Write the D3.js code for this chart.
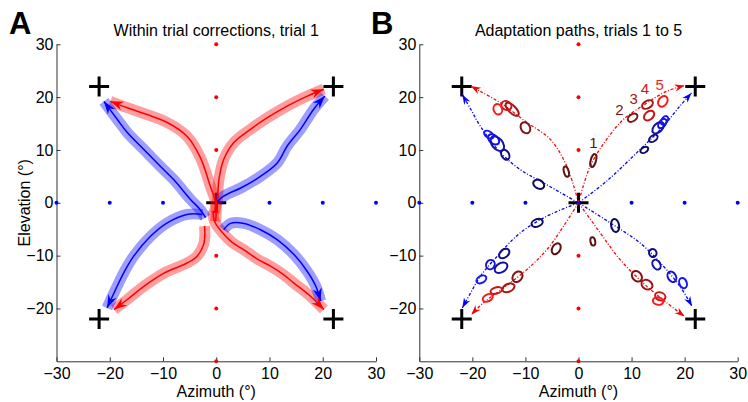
<!DOCTYPE html>
<html>
<head>
<meta charset="utf-8">
<script src="https://cdn.jsdelivr.net/npm/d3@7"></script>
<style>
body { margin: 0; background: #fff; }
svg { display: block; font-family: "Liberation Sans", Arial, sans-serif; }
</style>
</head>
<body>
<svg id="chart" width="748" height="402"></svg>
<script>
// ---- data ----
const xTickVals = [-30, -20, -10, 0, 10, 20, 30];
const yTickVals = [-20, -10, 0, 10, 20, 30];
const redDotEl = [-30, -20, -10, 0, 10, 20, 30];   // red dots along azimuth 0
const blueDotAz = [-30, -20, -10, 10, 20, 30];     // blue dots along elevation 0
const targets = [[22, 22], [-22, 22], [-22, -22], [22, -22], [0, 0]];

// panel A: mean within-trial paths [azimuth, elevation]
const redPathsA = [
	[[-0.4, -1.9], [0.2, 0.6], [0.5, 4.4], [1.4, 8.2], [3.3, 11.4], [6.4, 13.9], [9.6, 16.1], [13.3, 18.3], [17.1, 20.2], [20.2, 21.5]],
	[[-0.1, -3.5], [-0.1, 0], [-1.1, 3.1], [-3.0, 8.6], [-5.5, 12.6], [-9.2, 15.2], [-13.0, 16.7], [-16.7, 18.0], [-19.9, 19.2]],
	[[-2.2, -4.4], [-2.3, -7.6], [-3.6, -10.1], [-5.5, -11.4], [-9.8, -13.3], [-13.6, -15.8], [-16.7, -18.3], [-19.2, -20.2]],
	[[-0.6, -1.5], [-0.3, -3.6], [0.8, -5.2], [3.0, -7.5], [5.2, -8.9], [7.8, -10.7], [10.2, -12.0], [12.5, -13.5], [14.6, -15.2], [17.7, -17.7], [20.2, -20.2]]
];
const bluePathsA = [
	[[0.2, 0.2], [1.0, 1.0], [2.4, 1.8], [4.6, 2.8], [8.3, 5.0], [11.5, 7.6], [13.3, 10.7], [15.8, 13.9], [18.3, 17.7], [20.4, 20.2]],
	[[-2.0, -2.8], [-3.0, -1.3], [-4.8, 0.6], [-8.0, 4.4], [-10.5, 6.9], [-13.6, 10.1], [-16.7, 13.3], [-18.6, 15.8], [-21.1, 19.2]],
	[[-2.6, -2.2], [-5.5, -2.2], [-9.2, -3.8], [-12.3, -6.3], [-15.5, -10.1], [-17.4, -13.3], [-18.9, -16.4], [-20.5, -19.9]],
	[[1.4, -5.1], [2.7, -3.9], [5.2, -3.9], [8.3, -5.1], [11.5, -7.0], [14.6, -9.8], [17.1, -13.0], [18.7, -15.8], [19.6, -18.6]]
];

// panel B: adaptation paths
const redPathsB = [
	[[0, 0], [2.2, 6.9], [5.3, 12.0], [8.5, 15.8], [12.9, 18.9], [16.6, 21.1], [20.0, 22.2]],
	[[0, 0], [-2.2, 6.9], [-5.3, 12.0], [-9.7, 15.2], [-14.7, 18.9], [-18.5, 21.1], [-20.3, 22.1]],
	[[0, 0], [-2.8, -4.4], [-5.9, -8.8], [-9.7, -12.6], [-14.1, -16.1], [-17.9, -18.9], [-20.2, -21.2]],
	[[0, 0], [4.1, -5.7], [7.8, -10.7], [12.2, -15.2], [16.6, -18.9], [20.0, -21.5]]
];
const bluePathsB = [
	[[0, 0], [5.3, 4.1], [11.0, 9.5], [16.0, 14.5], [19.1, 18.3], [21.3, 20.8]],
	[[0, 0], [-7.2, 4.1], [-11.0, 6.3], [-14.7, 9.5], [-18.5, 14.5], [-20.3, 17.7], [-21.9, 20.5]],
	[[0, 0], [-5.9, -2.5], [-11.0, -5.7], [-15.3, -10.1], [-18.5, -13.9], [-20.3, -17.0], [-21.9, -19.9]],
	[[0, 0], [6.0, -3.8], [11.6, -7.6], [16.0, -12.0], [19.1, -15.8], [21.4, -19.6]]
];

// endpoint ellipses: [az, el, semi-major (deg), semi-minor (deg), angle (deg), trial]
const redEllipses = [
	[2.8, 8.0, 1.25, 0.5, 75, 1], [10.2, 16.1, 1.0, 0.65, 35, 2], [13.0, 18.6, 1.1, 0.7, 30, 3], [13.3, 16.5, 1.1, 0.75, 40, 4], [15.9, 19.2, 1.1, 0.8, 55, 5],
	[-2.3, 5.9, 1.0, 0.45, 105, 1], [-10.0, 14.2, 1.1, 0.85, 120, 2], [-12.5, 17.7, 1.6, 0.7, 135, 3], [-13.6, 18.4, 1.0, 0.8, 150, 4], [-15.2, 17.7, 1.0, 0.8, 110, 5],
	[-4.2, -8.7, 1.1, 0.75, 60, 1], [-11.5, -14.0, 1.1, 0.85, 50, 2], [-13.2, -16.1, 1.2, 0.75, 25, 3], [-15.5, -16.6, 1.1, 0.6, 15, 4], [-17.1, -18.0, 1.0, 0.65, 25, 5],
	[2.7, -7.3, 0.8, 0.45, 100, 1], [11.0, -13.9, 1.1, 0.85, 130, 2], [12.9, -15.5, 1.1, 0.85, 150, 3], [15.4, -17.7, 1.0, 0.75, 160, 4], [15.0, -18.6, 1.0, 0.7, 170, 5]
];
const blueEllipses = [
	[12.4, 10.0, 0.8, 0.5, 30, 1], [14.1, 12.2, 0.9, 0.55, 35, 2], [15.0, 14.2, 1.3, 0.8, 45, 3], [15.8, 15.0, 1.0, 0.6, 50, 4], [16.2, 15.6, 0.9, 0.55, 55, 5],
	[-7.5, 3.5, 1.1, 0.8, 150, 1], [-13.8, 9.1, 1.0, 0.7, 120, 2], [-15.3, 11.2, 1.6, 1.0, 130, 3], [-16.0, 12.0, 1.2, 0.8, 140, 4], [-16.9, 12.9, 1.0, 0.6, 145, 5],
	[-7.8, -3.8, 1.1, 0.7, 20, 1], [-14.0, -9.6, 1.1, 0.75, 40, 2], [-14.6, -12.3, 1.3, 0.85, 30, 3], [-16.6, -11.7, 0.9, 0.8, 60, 4], [-18.3, -14.5, 1.0, 0.65, 30, 5],
	[6.9, -4.3, 1.25, 0.75, 100, 1], [14.0, -9.5, 0.75, 0.7, 110, 2], [14.7, -11.7, 1.0, 0.7, 120, 3], [17.6, -14.0, 1.05, 0.75, 120, 4], [19.7, -15.2, 1.0, 0.7, 110, 5]
];
const trialLabels = [["1", 2.8, 11.4], ["2", 7.7, 17.7], ["3", 10.4, 19.7], ["4", 12.5, 21.6], ["5", 15.3, 22.4]];

const redShades = ["#5e1212", "#801414", "#a41616", "#cc1616", "#f81c1c"];
const blueShades = ["#0c0c5a", "#0e0e82", "#1010aa", "#1212d2", "#1616f8"];

// ---- layout ----
const svg = d3.select("#chart");
const yScale = d3.scaleLinear().domain([-30, 30]).range([361.3, 44.3]);

const defs = svg.append("defs");
function addMarker(id, color, len, half, notch) {
	defs.append("marker")
		.attr("id", id)
		.attr("viewBox", `${-len - 1} ${-half - 1} ${len + 2} ${2 * half + 2}`)
		.attr("markerUnits", "userSpaceOnUse")
		.attr("markerWidth", len + 2).attr("markerHeight", 2 * half + 2)
		.attr("refX", 0).attr("refY", 0)
		.attr("orient", "auto")
		.append("path")
		.attr("d", `M0,0L${-len},${-half}L${-notch},0L${-len},${half}Z`)
		.attr("fill", color);
}
addMarker("arA-red", "#f00", 13, 4.5, 9);
addMarker("arA-blue", "#00f", 13, 4.5, 9);
addMarker("arB-red", "#f00", 10, 3.5, 7);
addMarker("arB-blue", "#00f", 10, 3.5, 7);

function panel(x0, x1, title, letter, letterX) {
	const x = d3.scaleLinear().domain([-30, 30]).range([x0, x1]);
	const g = svg.append("g");

	const ax = g.append("g")
		.attr("transform", `translate(0, ${yScale(-30)})`)
		.call(d3.axisBottom(x).tickValues(xTickVals).tickSizeInner(-4).tickSizeOuter(0).tickPadding(6));
	const ay = g.append("g")
		.attr("transform", `translate(${x(-30)}, 0)`)
		.call(d3.axisLeft(yScale).tickValues(yTickVals).tickSizeInner(-4).tickSizeOuter(0).tickPadding(3));
	[ax, ay].forEach(a => {
		a.attr("font-size", 16).attr("font-family", null).attr("color", "#333");
		a.selectAll("text").attr("fill", "#000");
	});

	g.append("text")
		.attr("x", (x0 + x1) / 2).attr("y", 36)
		.attr("text-anchor", "middle").attr("font-size", 16)
		.text(title);
	g.append("text")
		.attr("x", letterX).attr("y", 34)
		.attr("font-size", 31).attr("font-weight", "bold")
		.text(letter);
	g.append("text")
		.attr("x", (x0 + x1) / 2).attr("y", 396.5)
		.attr("text-anchor", "middle").attr("font-size", 16)
		.text("Azimuth (°)");

	// grid of reference dots
	g.append("g").selectAll("circle").data(redDotEl).join("circle")
		.attr("cx", x(0)).attr("cy", d => yScale(d)).attr("r", 2).attr("fill", "#f00");
	g.append("g").selectAll("circle").data(blueDotAz).join("circle")
		.attr("cx", d => x(d)).attr("cy", yScale(0)).attr("r", 2).attr("fill", "#00f");

	// target crosses
	g.append("g").selectAll("path").data(targets).join("path")
		.attr("d", d => {
			const cx = x(d[0]), cy = yScale(d[1]);
			return `M${cx - 10},${cy}H${cx + 10}M${cx},${cy - 10}V${cy + 10}`;
		})
		.attr("stroke", "#000").attr("stroke-width", 3).attr("fill", "none");

	return { g, x };
}

// ---- panel A ----
const A = panel(56.5, 376, "Within trial corrections, trial 1", "A", 9);
svg.append("text")
	.attr("transform", `translate(30, ${yScale(0)}) rotate(-90)`)
	.attr("text-anchor", "middle").attr("font-size", 16)
	.text("Elevation (°)");

const lineA = d3.line().x(d => A.x(d[0])).y(d => yScale(d[1])).curve(d3.curveCatmullRom);
const bandsA = A.g.append("g").attr("fill", "none").attr("stroke-linejoin", "round");
bandsA.selectAll("path.r").data(redPathsA).join("path").attr("class", "r")
	.attr("d", lineA).attr("stroke", "#f00").attr("stroke-opacity", 0.38).attr("stroke-width", 11);
bandsA.selectAll("path.b").data(bluePathsA).join("path").attr("class", "b")
	.attr("d", lineA).attr("stroke", "#00f").attr("stroke-opacity", 0.38).attr("stroke-width", 11);

const linesA = A.g.append("g").attr("fill", "none");
linesA.selectAll("path.r").data(redPathsA).join("path").attr("class", "r")
	.attr("d", lineA).attr("stroke", "#f00").attr("stroke-width", 1.5).attr("marker-end", "url(#arA-red)");
linesA.selectAll("path.b").data(bluePathsA).join("path").attr("class", "b")
	.attr("d", lineA).attr("stroke", "#00f").attr("stroke-width", 1.5).attr("marker-end", "url(#arA-blue)");

// ---- panel B ----
const B = panel(419.3, 737.7, "Adaptation paths, trials 1 to 5", "B", 371);
const lineB = d3.line().x(d => B.x(d[0])).y(d => yScale(d[1])).curve(d3.curveCatmullRom);
const linesB = B.g.append("g").attr("fill", "none").attr("stroke-width", 1.3).attr("stroke-dasharray", "3,1.8,1,1.8");
linesB.selectAll("path.r").data(redPathsB).join("path").attr("class", "r")
	.attr("d", lineB).attr("stroke", "#f00").attr("marker-end", "url(#arB-red)");
linesB.selectAll("path.b").data(bluePathsB).join("path").attr("class", "b")
	.attr("d", lineB).attr("stroke", "#00f").attr("marker-end", "url(#arB-blue)");

const kx = B.x(1) - B.x(0), ky = yScale(0) - yScale(1);
function drawEllipses(data, shades) {
	B.g.append("g").selectAll("ellipse").data(data).join("ellipse")
		.attr("transform", d => `translate(${B.x(d[0])},${yScale(d[1])}) rotate(${-d[4]})`)
		.attr("rx", d => d[2] * kx).attr("ry", d => d[3] * ky)
		.attr("fill", "none").attr("stroke-width", 2)
		.attr("stroke", d => shades[d[5] - 1]);
}
drawEllipses(redEllipses, redShades);
drawEllipses(blueEllipses, blueShades);

B.g.append("g").selectAll("text").data(trialLabels).join("text")
	.attr("x", d => B.x(d[1])).attr("y", d => yScale(d[2]))
	.attr("dy", "0.36em").attr("text-anchor", "middle").attr("font-size", 15)
	.attr("fill", (d, i) => redShades[i])
	.text(d => d[0]);
</script>
</body>
</html>
